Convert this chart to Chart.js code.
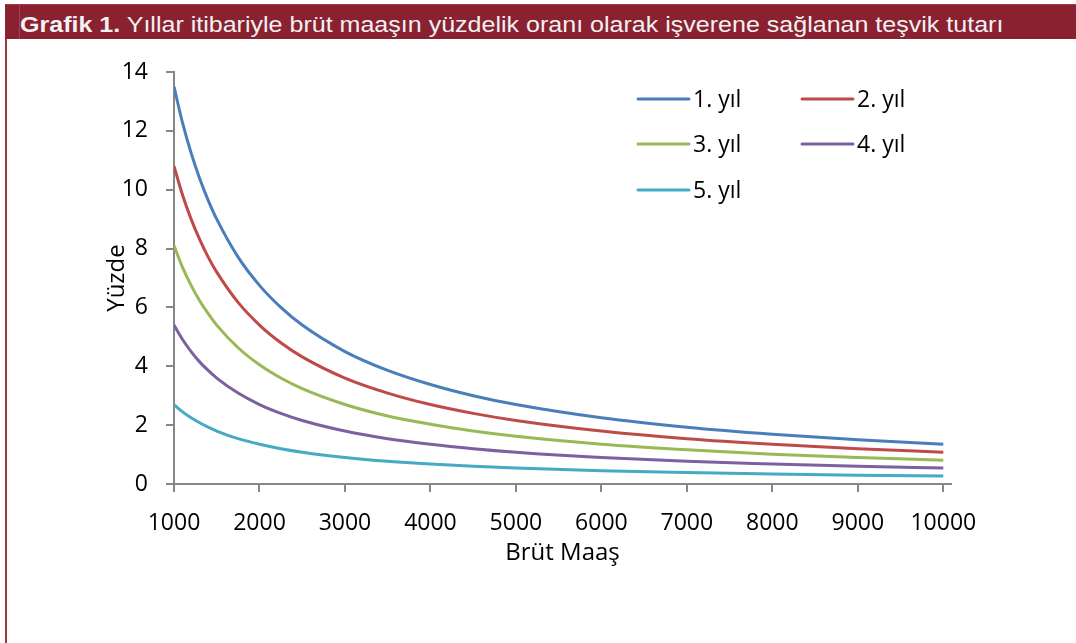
<!DOCTYPE html>
<html lang="tr">
  <head>
    <meta charset="UTF-8" />
    <title>Grafik 1</title>
    <script src="https://cdn.jsdelivr.net/npm/chart.js@4.4.1/dist/chart.umd.min.js"></script>
    <style>
      body {
        margin: 0;
        background: #fff;
        width: 1076px;
        height: 643px;
        position: relative;
        overflow: hidden;
      }
      .title-bar {
        position: absolute;
        left: 5px;
        top: 4px;
        width: 1071px;
        height: 35px;
        background: #892131;
        border-top: 1px solid #a8383d;
        box-sizing: border-box;
      }
      .title-bar .sep {
        position: absolute;
        left: 14px;
        top: 0;
        bottom: 0;
        width: 1px;
        background: #9c4452;
      }
      .title-bar p {
        margin: 0;
        position: absolute;
        left: 15px;
        top: 7px;
        color: #f2f2f2;
        font-family: "Liberation Sans", Arial, sans-serif;
        font-size: 22px;
        white-space: nowrap;
        transform: scaleX(1.138);
        transform-origin: left center;
      }
      .left-border {
        position: absolute;
        left: 5px;
        top: 39px;
        width: 2px;
        height: 604px;
        background: #9e383c;
      }
      .chart-box {
        position: absolute;
        left: 7px;
        top: 39px;
        width: 1069px;
        height: 604px;
      }
    </style>
  </head>
  <body>
    <div class="title-bar">
      <div class="sep"></div>
      <p><b>Grafik 1.</b> Yıllar itibariyle brüt maaşın yüzdelik oranı olarak işverene sağlanan teşvik tutarı</p>
    </div>
    <div class="left-border"></div>
    <div class="chart-box">
      <canvas id="chart"></canvas>
    </div>
  </body>
  <script>
    // brüt maaş (x) ve yıllara göre yüzde değerleri
    const maas = [1000, 1100, 1200, 1300, 1400, 1500, 1750, 2000, 2250, 2500, 3000, 3500, 4000, 4500, 5000, 6000, 7000, 8000, 9000, 10000];
    const yil1 = [13.5, 12.27, 11.25, 10.38, 9.64, 9.0, 7.71, 6.75, 6.0, 5.4, 4.5, 3.86, 3.38, 3.0, 2.7, 2.25, 1.93, 1.69, 1.5, 1.35];
    const yil2 = [10.8, 9.82, 9.0, 8.31, 7.71, 7.2, 6.17, 5.4, 4.8, 4.32, 3.6, 3.09, 2.7, 2.4, 2.16, 1.8, 1.54, 1.35, 1.2, 1.08];
    const yil3 = [8.1, 7.36, 6.75, 6.23, 5.79, 5.4, 4.63, 4.05, 3.6, 3.24, 2.7, 2.31, 2.03, 1.8, 1.62, 1.35, 1.16, 1.01, 0.9, 0.81];
    const yil4 = [5.4, 4.91, 4.5, 4.15, 3.86, 3.6, 3.09, 2.7, 2.4, 2.16, 1.8, 1.54, 1.35, 1.2, 1.08, 0.9, 0.77, 0.68, 0.6, 0.54];
    const yil5 = [2.7, 2.45, 2.25, 2.08, 1.93, 1.8, 1.54, 1.35, 1.2, 1.08, 0.9, 0.77, 0.68, 0.6, 0.54, 0.45, 0.39, 0.34, 0.3, 0.27];

    const seriesLabels = ["1. yıl", "2. yıl", "3. yıl", "4. yıl", "5. yıl"];
    const xTicks = [1000, 2000, 3000, 4000, 5000, 6000, 7000, 8000, 9000, 10000];
    const yTicks = [0, 2, 4, 6, 8, 10, 12, 14];

    const colors = ["#4a7ebb", "#be4b48", "#98b954", "#7d60a0", "#46aac5"];
    const fontFamily = '"Open Sans", "Liberation Sans", sans-serif';
    const axisColor = "#878787";

    const allSeries = [yil1, yil2, yil3, yil4, yil5];

    // legend in two columns, like the original
    const gridLegend = {
      id: "gridLegend",
      afterDraw(chart) {
        const ctx = chart.ctx;
        const colX = [631, 795];
        const rowY = [60, 105, 151];
        ctx.save();
        ctx.font = "23px " + fontFamily;
        ctx.textBaseline = "middle";
        ctx.fillStyle = "#000";
        chart.data.datasets.forEach((ds, i) => {
          const x = colX[i % 2];
          const y = rowY[Math.floor(i / 2)];
          ctx.strokeStyle = ds.borderColor;
          ctx.lineWidth = 3;
          ctx.lineCap = "round";
          ctx.beginPath();
          ctx.moveTo(x, y);
          ctx.lineTo(x + 51, y);
          ctx.stroke();
          ctx.fillText(ds.label, x + 55, y + 1);
        });
        ctx.restore();
      },
    };

    new Chart(document.getElementById("chart"), {
      type: "line",
      data: {
        datasets: allSeries.map((vals, i) => ({
          label: seriesLabels[i],
          data: maas.map((m, j) => ({ x: m, y: vals[j] })),
          borderColor: colors[i],
          backgroundColor: colors[i],
          borderWidth: 3,
          pointRadius: 0,
          cubicInterpolationMode: "monotone",
          fill: false,
        })),
      },
      options: {
        responsive: true,
        maintainAspectRatio: false,
        animation: false,
        layout: { padding: { top: 33, right: 125, bottom: 59, left: 0 } },
        plugins: {
          legend: { display: false },
          tooltip: { enabled: false },
        },
        scales: {
          x: {
            type: "linear",
            min: 1000,
            max: 10090,
            afterBuildTicks: (axis) => {
              axis.ticks = xTicks.map((v) => ({ value: v }));
            },
            afterFit: (axis) => {
              axis.height = 100;
            },
            grid: {
              drawOnChartArea: false,
              color: axisColor,
              lineWidth: 2,
              tickLength: 8,
            },
            border: { color: axisColor, width: 2 },
            ticks: {
              color: "#000",
              font: { family: fontFamily, size: 23 },
              padding: 18,
              maxRotation: 0,
              autoSkip: false,
              callback: (v) => String(v),
            },
            title: {
              display: true,
              text: "Brüt Maaş",
              color: "#000",
              font: { family: fontFamily, size: 24 },
              padding: { top: 0, bottom: 16 },
            },
          },
          y: {
            min: 0,
            max: 14,
            afterBuildTicks: (axis) => {
              axis.ticks = yTicks.map((v) => ({ value: v }));
            },
            afterFit: (axis) => {
              axis.width = 167;
            },
            grid: {
              drawOnChartArea: false,
              color: axisColor,
              lineWidth: 2,
              tickLength: 8,
            },
            border: { color: axisColor, width: 2 },
            ticks: {
              color: "#000",
              font: { family: fontFamily, size: 23 },
              padding: 18,
            },
            title: {
              display: true,
              text: "Yüzde",
              color: "#000",
              font: { family: fontFamily, size: 24 },
              padding: { top: 96, bottom: 0 },
            },
          },
        },
      },
      plugins: [gridLegend],
    });
  </script>
</html>
